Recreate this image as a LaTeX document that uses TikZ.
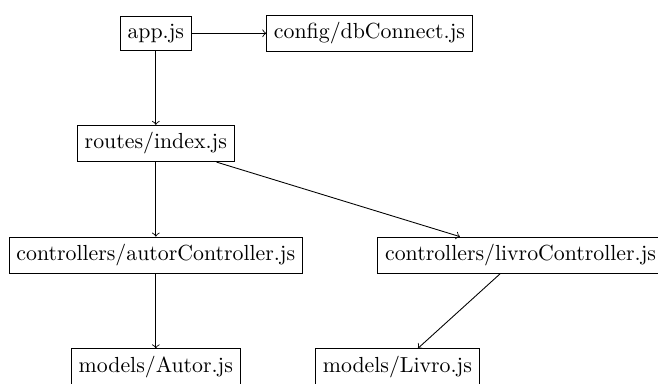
\documentclass[tikz,border=0pt]{standalone}
\usepackage{tikz}
\usetikzlibrary{positioning}

\begin{document}
\begin{tikzpicture}[node distance=1.2cm, file/.style={draw, rectangle}]
    % Entry point and database config
    \node[file] (app) {app.js};
    \node[file, right=of app] (db) {config/dbConnect.js};

    % Routes
    \node[file, below=of app] (routes) {routes/index.js};

    % Controllers
    \node[file, below=of routes] (autorctrl) {controllers/autorController.js};
    \node[file, right=of autorctrl] (livroctrl) {controllers/livroController.js};

    % Models
    \node[file, below=of autorctrl] (autor) {models/Autor.js};
    \node[file, right=of autor] (livro) {models/Livro.js};

    % Arrows between files
    \draw[->] (app) -- (db);
    \draw[->] (app) -- (routes);
    \draw[->] (routes) -- (autorctrl);
    \draw[->] (routes) -- (livroctrl);
    \draw[->] (autorctrl) -- (autor);
    \draw[->] (livroctrl) -- (livro);

    % Frame as in the reference (cuts the right and bottom boxes)
    \pgfresetboundingbox
    \useasboundingbox ([xshift=-4pt, yshift=7.4pt] autorctrl.west |- app.north)
        rectangle ([xshift=128.6pt, yshift=1pt] livroctrl.west |- autor.south);
\end{tikzpicture}
\end{document}
